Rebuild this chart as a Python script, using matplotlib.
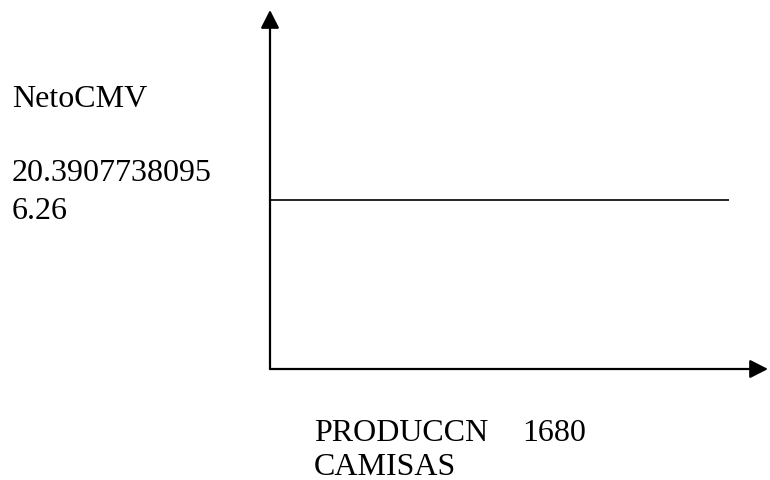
import matplotlib
matplotlib.use("Agg")
import matplotlib.pyplot as plt

# valores del diagrama
neto_label = "NetoCMV"
neto_values = ["20.3907738095", "6.26"]
produccion = 1680
precio = 6.26
x_label = ["PRODUCCN", "CAMISAS"]

line_x = [0, produccion]
line_y = [precio, precio]

W, H = 770, 481
plt.rcParams['font.family'] = ['Liberation Serif', 'DejaVu Serif']
fig = plt.figure(figsize=(W / 100, H / 100), dpi=100)
ax = fig.add_axes([0, 0, 1, 1])
ax.set_axis_off()

# escala: origen en pixel (270, 370), 1680 -> x=729, 6.26 -> y=201
ox, oy = 270, 370
sx = produccion / (729 - ox)
sy = precio / (oy - 201)
ax.set_xlim(-ox * sx, (W - ox) * sx)
ax.set_ylim(-(H - oy) * sy, oy * sy)

arrow = dict(arrowstyle='-|>,head_length=0.55,head_width=0.28', mutation_scale=20,
             lw=1.6, color='black', shrinkA=0, shrinkB=0)
# eje y
ax.annotate('', xy=(0, (oy - 11) * sy), xytext=(0, 0), arrowprops=arrow)
# eje x
ax.annotate('', xy=((768 - ox) * sx, 0), xytext=(0, 0), arrowprops=arrow)

ax.plot(line_x, line_y, color='black', lw=1.2, solid_capstyle='butt')

fs = 23
def txt(x, y, s):
    fig.text(x / W, 1 - y / H, s, fontsize=fs, va='baseline', ha='left')

txt(12, 107, neto_label)
txt(12, 181, neto_values[0])
txt(12, 219, neto_values[1])
txt(314, 441, x_label[0])
txt(522, 441, str(produccion))
txt(314, 475, x_label[1])

fig.savefig("out.png", dpi=100)
